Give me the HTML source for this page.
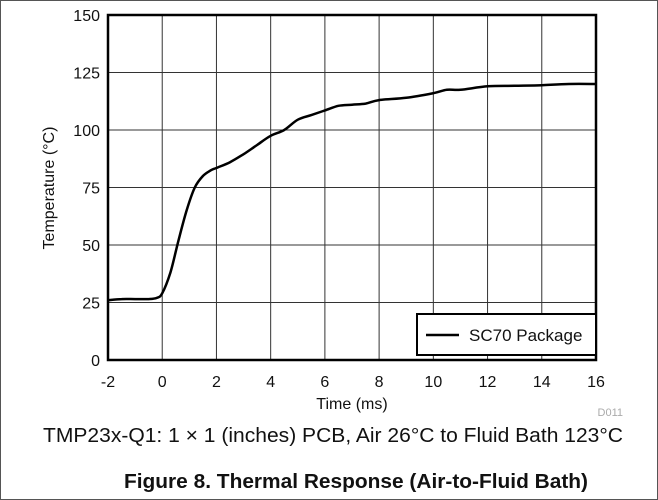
<!DOCTYPE html>
<html><head><meta charset="utf-8"><style>
html,body{margin:0;padding:0;background:#fff;}
#wrap{position:relative;width:656px;height:498px;border:1px solid #555;overflow:hidden;font-family:"Liberation Sans",sans-serif;}
</style></head><body>
<div id="wrap">
<svg id="chart" width="656" height="498"></svg>
</div>
<script>
const timeMs=[-2,-1.5,-1,-0.5,-0.2,0,0.3,0.6,0.9,1.2,1.5,1.8,2,2.5,3,3.5,4,4.5,5,5.5,6,6.5,7,7.5,8,9,10,10.5,11,12,13,14,15,16];
const tempC=[26,26.5,26.5,26.5,27,29,38,52,65,75,80,82.5,83.5,86,89.5,93.5,97.5,100,104.5,106.5,108.5,110.5,111,111.5,113,114,116,117.5,117.5,119,119.2,119.5,120,120];
const xTicks=[-2,0,2,4,6,8,10,12,14,16];
const yTicks=[0,25,50,75,100,125,150];
const NS='http://www.w3.org/2000/svg';
const svg=document.getElementById('chart');
const L=107,R=595,T=14,B=359;
const xs=v=>L+(v+2)/18*(R-L);
const ys=v=>B-v/150*(B-T);
function mk(t,a){const e=document.createElementNS(NS,t);for(const k in a)e.setAttribute(k,a[k]);svg.appendChild(e);return e;}
xTicks.forEach(v=>{
 const g=mk('line',{x1:xs(v),x2:xs(v),y1:T,y2:B,stroke:'#333','stroke-width':1});
 
 
 const t=mk('text',{x:xs(v),y:B+27,'text-anchor':'middle','font-size':16,fill:'#111'});t.textContent=v;
 
 
});
yTicks.forEach(v=>{
 const g=mk('line',{x1:L,x2:R,y1:ys(v),y2:ys(v),stroke:'#333','stroke-width':1});
 
 
 const t=mk('text',{x:L-8,y:ys(v)+6,'text-anchor':'end','font-size':16,fill:'#111'});t.textContent=v;
 
 
});
const fr=mk('rect',{x:L,y:T,width:R-L,height:B-T,fill:'none',stroke:'#000','stroke-width':2.5});


const pts=timeMs.map((x,i)=>[xs(x),ys(tempC[i])]);
let d='M'+pts[0][0].toFixed(1)+','+pts[0][1].toFixed(1);
for(let i=0;i<pts.length-1;i++){
 const p0=pts[Math.max(0,i-1)],p1=pts[i],p2=pts[i+1],p3=pts[Math.min(pts.length-1,i+2)];
 const c1=[p1[0]+(p2[0]-p0[0])/6,p1[1]+(p2[1]-p0[1])/6],c2=[p2[0]-(p3[0]-p1[0])/6,p2[1]-(p3[1]-p1[1])/6];
 d+='C'+c1[0].toFixed(1)+','+c1[1].toFixed(1)+' '+c2[0].toFixed(1)+','+c2[1].toFixed(1)+' '+p2[0].toFixed(1)+','+p2[1].toFixed(1);
}
const p=mk('path',{d:d,fill:'none',stroke:'#000','stroke-width':2.5,'stroke-linejoin':'round'});


const lg=mk('rect',{x:416,y:313,width:179,height:41,fill:'#fff',stroke:'#000','stroke-width':2});


const ll=mk('line',{x1:425,x2:458,y1:334,y2:334,stroke:'#000','stroke-width':2.5});


const lt=mk('text',{x:468,y:340,'font-size':17,fill:'#111'});lt.textContent='SC70 Package';


const xt=mk('text',{x:351,y:408,'text-anchor':'middle','font-size':16,fill:'#111'});xt.textContent='Time (ms)';


const yt=mk('text',{x:0,y:0,'text-anchor':'middle','font-size':16,fill:'#111',transform:'translate(53,187) rotate(-90)'});yt.textContent='Temperature (°C)';


const dc=mk('text',{x:622,y:415,'text-anchor':'end','font-size':11,fill:'#aaa'});dc.textContent='D011';


const cap=mk('text',{x:42,y:441,'font-size':20,fill:'#111',textLength:580,lengthAdjust:'spacingAndGlyphs'});cap.textContent='TMP23x-Q1: 1 × 1 (inches) PCB, Air 26°C to Fluid Bath 123°C';


const ti=mk('text',{x:123,y:487,'font-size':20,'font-weight':'bold',fill:'#111',textLength:464,lengthAdjust:'spacingAndGlyphs'});ti.textContent='Figure 8. Thermal Response (Air-to-Fluid Bath)';


</script>
</body></html>
